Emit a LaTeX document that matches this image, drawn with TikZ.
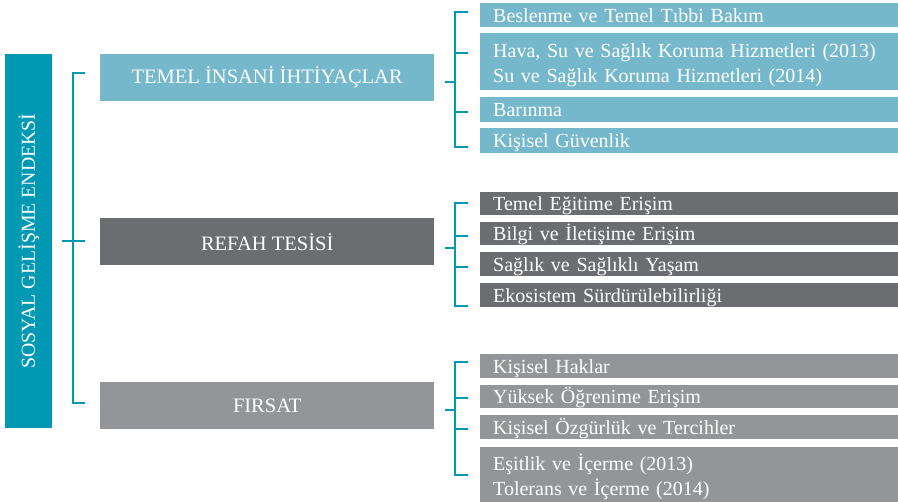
\documentclass[tikz,border=0pt]{standalone}
\usepackage{fontspec}
\setmainfont{Liberation Serif}
\definecolor{tealbar}{HTML}{0098B3}
\definecolor{lteal}{HTML}{76B8CB}
\definecolor{dgray}{HTML}{6C6D71}
\definecolor{lgray}{HTML}{949599}
\begin{document}
\begin{tikzpicture}[x=1pt,y=-1pt,
  brk/.style={draw=tealbar,line width=2.6pt},
  cat/.style={anchor=north west,minimum width=334pt,minimum height=47pt,inner sep=0pt,text=white,font=\fontsize{20.5}{22}\selectfont},
  subb/.style={anchor=north west,text width=392pt,inner xsep=13pt,inner ysep=0pt,align=left,text=white,font=\fontsize{20}{25}\selectfont},
  sub/.style={subb,text height=14pt,text depth=0pt}]
\useasboundingbox (0,0) rectangle (898,502);
% left index bar
\node[anchor=north west,fill=tealbar,minimum width=47pt,minimum height=374pt,inner sep=0pt] (sge) at (5,54) {};
\node[rotate=90,text=white,font=\fontsize{19.8}{22}\selectfont] (sget) at (sge.center) {SOSYAL GELİŞME ENDEKSİ};
% categories
\node[cat,fill=lteal] (c1) at (100,54) {TEMEL İNSANİ İHTİYAÇLAR};
\node[cat,fill=dgray] (c2) at (100,218) {REFAH TESİSİ};
\node[cat,fill=lgray] (c3) at (100,382) {FIRSAT};
% group 1
\node[sub,fill=lteal,minimum height=24pt] (b11) at (480,3) {Beslenme ve Temel Tıbbi Bakım};
\node[subb,fill=lteal,minimum height=57pt] (b12) at (480,33) {\rule{0pt}{20pt}Hava, Su ve Sağlık Koruma Hizmetleri (2013)\\Su ve Sağlık Koruma Hizmetleri (2014)};
\node[sub,fill=lteal,minimum height=25pt] (b13) at (480,97) {Barınma};
\node[sub,fill=lteal,minimum height=25pt] (b14) at (480,128) {Kişisel Güvenlik};
% group 2
\node[sub,fill=dgray,minimum height=23pt] (b21) at (480,192) {Temel Eğitime Erişim};
\node[sub,fill=dgray,minimum height=23pt] (b22) at (480,222) {Bilgi ve İletişime Erişim};
\node[sub,fill=dgray,minimum height=24pt] (b23) at (480,252) {Sağlık ve Sağlıklı Yaşam};
\node[sub,fill=dgray,minimum height=24pt] (b24) at (480,283) {Ekosistem Sürdürülebilirliği};
% group 3
\node[sub,fill=lgray,minimum height=24pt] (b31) at (480,354) {Kişisel Haklar};
\node[sub,fill=lgray,minimum height=23pt] (b32) at (480,385) {Yüksek Öğrenime Erişim};
\node[sub,fill=lgray,minimum height=24pt] (b33) at (480,415) {Kişisel Özgürlük ve Tercihler};
\node[subb,fill=lgray,minimum height=55pt] (b34) at (480,447) {\rule{0pt}{20pt}Eşitlik ve İçerme (2013)\\Tolerans ve İçerme (2014)};
% left bracket
\coordinate (la) at (85,73); \coordinate (lb) at (85,403); \coordinate (lm) at (62,241); \coordinate (lme) at (85,241);
\draw[brk] (la) -- (73,73) -- (73,403) -- (lb);
\draw[brk] (lm) -- (lme);
% right brackets
\foreach \t/\b/\m/\i/\j in {12/147/82/53/112, 203/306/248/236/267, 362/475/410/398/429}{
  \draw[brk] (468,\t) -- (455,\t) -- (455,\b) -- (468,\b);
  \draw[brk] (455,\i) -- (468,\i);
  \draw[brk] (455,\j) -- (468,\j);
  \draw[brk] (445,\m) -- (455,\m);
}
\end{tikzpicture}
\end{document}
